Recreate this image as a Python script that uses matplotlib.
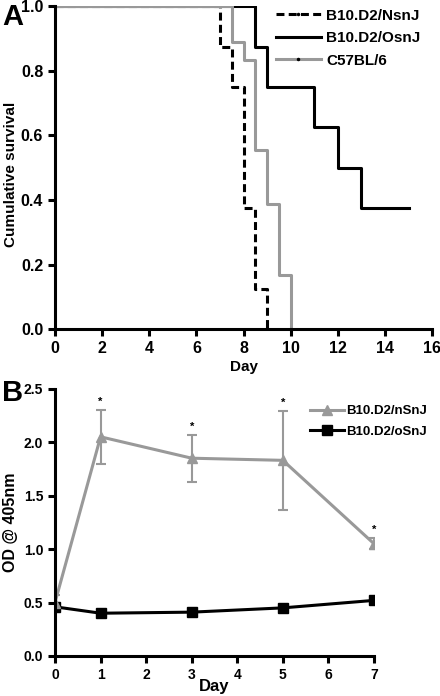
import matplotlib.pyplot as plt
from matplotlib.lines import Line2D

plt.rcParams['font.family'] = ['Liberation Sans', 'DejaVu Sans']
plt.rcParams['font.weight'] = 'bold'

# Panel A: Kaplan-Meier survival
days_nsnj = [0, 7, 7.5, 8, 8.5, 9]
surv_nsnj = [1.0, 0.875, 0.75, 0.375, 0.125, 0.0]
days_osnj = [0, 8.5, 9, 11, 12, 13, 15]
surv_osnj = [1.0, 0.875, 0.75, 0.625, 0.5, 0.375, 0.375]
days_c57 = [0, 7.5, 8, 8.5, 9, 9.5, 10]
surv_c57 = [1.0, 0.889, 0.833, 0.556, 0.389, 0.167, 0.0]
labels_a = ['B10.D2/NsnJ', 'B10.D2/OsnJ', 'C57BL/6']

# Panel B: OD over time
od_days = [0, 1, 3, 5, 7]
od_nsnj = [0.50, 2.05, 1.85, 1.83, 1.05]
err_nsnj = [0.07, 0.25, 0.22, 0.46, 0.05]
od_osnj = [0.46, 0.40, 0.41, 0.45, 0.52]
signif_days = [1, 3, 5, 7]
labels_b = ['B10.D2/nSnJ', 'B10.D2/oSnJ']

grey = '#999999'
lw = 2.2

fig = plt.figure(figsize=(4.4, 6.96), dpi=100)
ax1 = fig.add_axes([0.125, 0.527, 0.857, 0.464])
ax2 = fig.add_axes([0.125, 0.0575, 0.725, 0.384])

for ax in (ax1, ax2):
    for s in ('top', 'right'):
        ax.spines[s].set_visible(False)
    for s in ('left', 'bottom'):
        ax.spines[s].set_linewidth(2.2)
    ax.tick_params(width=2.2, length=5, direction='out')

ax1.step(days_nsnj, surv_nsnj, where='post', color='black', lw=lw, ls=(0, (2.6, 1.4)))
ax1.step(days_osnj, surv_osnj, where='post', color='black', lw=lw)
ax1.step(days_c57, surv_c57, where='post', color=grey, lw=lw)
ax1.set_xlim(0, 16)
ax1.set_ylim(0, 1.0)
ax1.set_xticks(range(0, 17, 2))
ax1.set_yticks([0, 0.2, 0.4, 0.6, 0.8, 1.0])
ax1.set_yticklabels(['0.0', '0.2', '0.4', '0.6', '0.8', '1.0'])
ax1.tick_params(labelsize=11.5)
ax1.set_xlabel('Day', fontsize=11, fontweight='bold')
ax1.xaxis.set_label_coords(0.5, -0.095)
ax1.set_ylabel('Cumulative survival', fontsize=11, fontweight='bold')
ax1.yaxis.set_label_coords(-0.097, 0.48)

handles_a = [
    Line2D([], [], color='black', lw=lw, ls=(0, (2.6, 1.4)), marker='.', markersize=3),
    Line2D([], [], color='black', lw=lw),
    Line2D([], [], color=grey, lw=lw, marker='.', markersize=3, markerfacecolor='black', markeredgecolor='black'),
]
ax1.legend(handles_a, labels_a, loc='upper right', bbox_to_anchor=(1.005, 1.035), frameon=False,
           fontsize=11, handlelength=3.0, handletextpad=0.3, labelspacing=0.55, numpoints=1)

eb = ax2.errorbar(od_days, od_nsnj, yerr=err_nsnj, color=grey, lw=lw, marker='^', markersize=7,
                  capsize=3.5, elinewidth=1.5, capthick=1.5)
ln, = ax2.plot(od_days, od_osnj, color='black', lw=lw, marker='s', markersize=7)
for d in signif_days:
    i = od_days.index(d)
    ax2.text(d, od_nsnj[i] + err_nsnj[i] + 0.03, '*', ha='center', va='bottom', fontsize=8)
ax2.set_xlim(0, 7)
ax2.set_ylim(0, 2.5)
ax2.set_xticks(range(0, 8))
ax2.set_yticks([0, 0.5, 1.0, 1.5, 2.0, 2.5])
ax2.set_yticklabels(['0.0', '0.5', '1.0', '1.5', '2.0', '2.5'])
ax2.tick_params(labelsize=10)
ax2.set_xlabel('Day', fontsize=12, fontweight='bold')
ax2.xaxis.set_label_coords(0.5, -0.085)
ax2.set_ylabel('OD @ 405nm', fontsize=11.5, fontweight='bold')
ax2.yaxis.set_label_coords(-0.115, 0.5)
h_grey = Line2D([], [], color=grey, lw=lw, marker='^', markersize=7)
ax2.legend([h_grey, ln], labels_b, loc='upper right', bbox_to_anchor=(0.997, 0.435),
           bbox_transform=fig.transFigure, frameon=False,
           fontsize=9.5, handlelength=2.6, handletextpad=0.15, labelspacing=0.6, numpoints=1)

fig.text(0.005, 0.975, 'A', fontsize=21, fontweight='bold', va='center')
fig.text(0.005, 0.435, 'B', fontsize=21, fontweight='bold', va='center')

fig.savefig('out.png', dpi=100)
